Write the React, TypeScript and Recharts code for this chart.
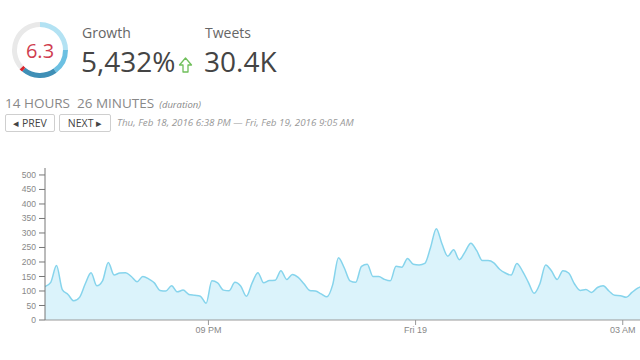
import { Area, AreaChart, Cell, Pie, PieChart, XAxis, YAxis } from 'recharts'

// tweets per 5 minute bucket, starting Thu Feb 18 6:38 PM
const tweetCounts = [
  115, 130, 188, 105, 88, 66, 78, 125, 163, 118,
  135, 198, 155, 162, 163, 150, 132, 150, 142, 128,
  102, 100, 118, 97, 103, 88, 85, 82, 58, 135,
  128, 103, 101, 130, 117, 82, 128, 163, 128, 136,
  137, 170, 140, 157, 147, 125, 102, 100, 90, 80,
  122, 215, 180, 135, 130, 185, 192, 150, 150, 140,
  135, 185, 182, 212, 192, 190, 195, 250, 315, 262,
  220, 242, 208, 235, 265, 240, 205, 205, 197, 175,
  162, 155, 195, 168, 130, 92, 125, 190, 170, 140,
  170, 162, 125, 102, 105, 95, 112, 118, 100, 85,
  84, 78, 95, 110, 118,
]
const bucketMinutes = 5
const visibleMinutes = 517

const xTickMinutes = [142, 322, 502]
const xTickLabels = ['09 PM', 'Fri 19', '03 AM']
const yTicks = [0, 50, 100, 150, 200, 250, 300, 350, 400, 450, 500]

// gauge: score 6.3 / 10
const gaugeScore = '6.3'
const gaugeSegments = [25, 15, 21, 2, 37]
const gaugeColors = ['#b3e2f3', '#6cc0e2', '#3f8fb6', '#d9262e', '#e9e9e9']

const growthLabel = 'Growth'
const growthValue = '5,432%'
const tweetsLabel = 'Tweets'
const tweetsValue = '30.4K'
const durationText = '14 HOURS  26 MINUTES'
const rangeText = 'Thu, Feb 18, 2016 6:38 PM \u2014 Fri, Feb 19, 2016 9:05 AM'

const chartData = tweetCounts.map((count, i) => ({ t: i * bucketMinutes, count }))
const gaugeData = gaugeSegments.map((value, i) => ({ name: `s${i}`, value }))

const sans = '"Open Sans", "Noto Sans", sans-serif'
const axisFont = 'Liberation Sans, Arial, sans-serif'

const buttonStyle: React.CSSProperties = {
  position: 'absolute',
  top: 114,
  height: 18,
  border: '1px solid #cfcfcf',
  borderRadius: 2,
  background: '#fff',
  fontFamily: sans,
  fontSize: 10.5,
  color: '#444',
  display: 'flex',
  alignItems: 'center',
  justifyContent: 'center',
  boxSizing: 'border-box',
}

const labelStyle: React.CSSProperties = {
  position: 'absolute',
  top: 25,
  fontFamily: sans,
  fontSize: 14,
  lineHeight: '16px',
  color: '#666',
}

const valueStyle: React.CSSProperties = {
  position: 'absolute',
  top: 47,
  fontFamily: sans,
  fontSize: 28,
  lineHeight: '28px',
  color: '#444',
}

export default function App() {
  return (
    <div style={{ position: 'absolute', left: 0, top: 0, width: 640, height: 360, background: '#fff', overflow: 'hidden' }}>
      <div style={{ position: 'absolute', left: 0, top: 150 }}>
        <AreaChart width={640} height={200} data={chartData} margin={{ top: 18, right: 0, bottom: 0, left: 0 }}>
          <XAxis
            dataKey="t"
            type="number"
            domain={[0, visibleMinutes]}
            allowDataOverflow
            ticks={xTickMinutes}
            interval={0}
            tickFormatter={(v: number) => xTickLabels[xTickMinutes.indexOf(v)] ?? ''}
            height={30}
            stroke="#999"
            tickSize={5}
            tick={{ fontSize: 9, fill: '#888', fontFamily: axisFont }}
          />
          <YAxis
            type="number"
            domain={[0, 524]}
            allowDataOverflow
            ticks={yTicks}
            interval={0}
            width={45}
            stroke="#777"
            tickSize={6}
            tickMargin={3}
            tick={{ fontSize: 8.5, fill: '#888', fontFamily: axisFont }}
          />
          <Area
            type="monotone"
            dataKey="count"
            stroke="#86d4ec"
            strokeWidth={1.5}
            fill="#dbf3fb"
            fillOpacity={1}
            isAnimationActive={false}
          />
        </AreaChart>
      </div>

      <div style={{ position: 'absolute', left: 10, top: 20 }}>
        <PieChart width={60} height={60} margin={{ top: 0, right: 0, bottom: 0, left: 0 }}>
          <Pie
            data={gaugeData}
            dataKey="value"
            cx={30}
            cy={30}
            innerRadius={23}
            outerRadius={28}
            startAngle={90}
            endAngle={-270}
            stroke="none"
            isAnimationActive={false}
          >
            {gaugeData.map((d, i) => (
              <Cell key={d.name} fill={gaugeColors[i]} />
            ))}
          </Pie>
        </PieChart>
        <div style={{ position: 'absolute', left: 0, top: 0, width: 60, height: 60, display: 'flex', alignItems: 'center', justifyContent: 'center', fontFamily: sans, fontSize: 20, color: '#cf3d4f' }}>
          {gaugeScore}
        </div>
      </div>

      <div style={{ ...labelStyle, left: 82 }}>{growthLabel}</div>
      <div style={{ ...valueStyle, left: 81 }}>{growthValue}</div>
      <svg style={{ position: 'absolute', left: 178, top: 57 }} width={15} height={16} viewBox="0 0 15 16">
        <path d="M7.5 1 L13.5 8 L10 8 L10 15 L5 15 L5 8 L1.5 8 Z" fill="none" stroke="#6fbf5a" strokeWidth={1.3} strokeLinejoin="round" />
      </svg>
      <div style={{ ...labelStyle, left: 205 }}>{tweetsLabel}</div>
      <div style={{ ...valueStyle, left: 204 }}>{tweetsValue}</div>

      <div style={{ position: 'absolute', left: 5, top: 94, fontFamily: sans, fontSize: 13.5, color: '#888', whiteSpace: 'pre' }}>
        {durationText}
        <span style={{ fontSize: 9.5, fontStyle: 'italic', marginLeft: 5 }}>(duration)</span>
      </div>

      <div style={{ ...buttonStyle, left: 5, width: 50 }}>{'\u25C2 PREV'}</div>
      <div style={{ ...buttonStyle, left: 59, width: 52 }}>{'NEXT \u25B8'}</div>
      <div style={{ position: 'absolute', left: 117, top: 116, fontFamily: sans, fontSize: 9.8, fontStyle: 'italic', color: '#999', whiteSpace: 'pre' }}>
        {rangeText}
      </div>
    </div>
  )
}
